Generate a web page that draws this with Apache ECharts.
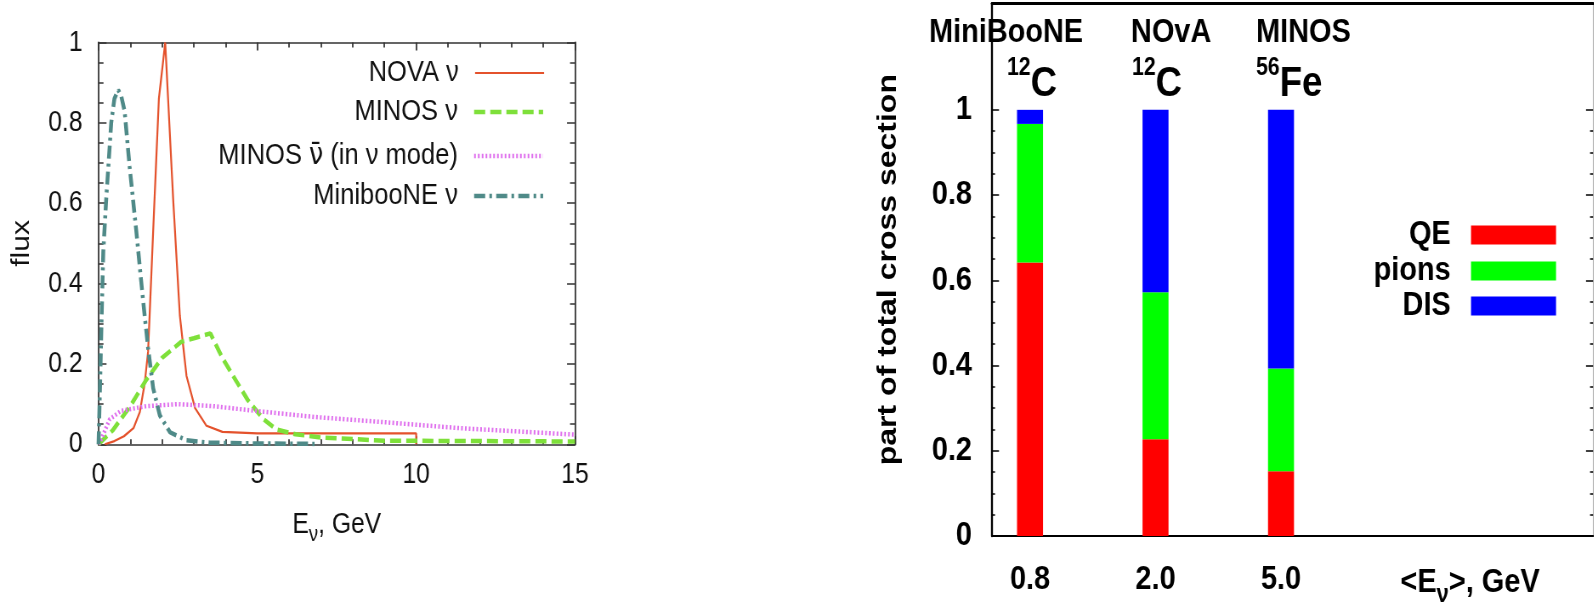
<!DOCTYPE html>
<html><head><meta charset="utf-8">
<script src="https://cdn.jsdelivr.net/npm/echarts@6/dist/echarts.min.js"></script>
<style>html,body{margin:0;padding:0;background:#fff;overflow:hidden;width:1594px;height:606px}
#c{width:1875px;height:606px;transform:scaleX(0.85);transform-origin:0 0}</style>
</head><body><div id="c"></div>
<script>
// ---------- left panel: flux curves [E (GeV), flux] ----------
const novaNu = [[0.2,0],[0.5,0.008],[0.8,0.02],[1.1,0.04],[1.3,0.08],[1.45,0.15],[1.56,0.23],[1.72,0.53],[1.9,0.86],[2.1,1.0],[2.35,0.61],[2.56,0.32],[2.77,0.17],[3.04,0.09],[3.4,0.046],[3.9,0.031],[5,0.027],[10,0.027],[10,0]];
const minosNu = [[0,0],[0.45,0.035],[1,0.095],[1.5,0.16],[2,0.215],[2.6,0.255],[3,0.264],[3.52,0.276],[3.9,0.215],[4.2,0.175],[4.7,0.11],[5.2,0.062],[5.6,0.037],[6.2,0.025],[7,0.017],[9,0.009],[15,0.007]];
const minosNuBar = [[0,0],[0.1,0.015],[0.35,0.062],[0.7,0.083],[1.5,0.095],[2.5,0.1],[3.6,0.095],[5.2,0.081],[6.8,0.068],[9,0.055],[11.4,0.04],[15,0.024]];
const miniboone = [[0,0],[0.05,0.15],[0.1,0.32],[0.15,0.48],[0.25,0.62],[0.4,0.8],[0.5,0.86],[0.62,0.882],[0.72,0.865],[0.82,0.83],[0.98,0.69],[1.19,0.53],[1.4,0.36],[1.56,0.24],[1.72,0.14],[1.93,0.072],[2.25,0.03],[2.77,0.01],[3.5,0.004],[5,0.002],[6.8,0.001]];
const leftNames = ['NOVA ν', 'MINOS ν', 'MINOS ν̄ (in ν mode)', 'MinibooNE ν'];

// ---------- right panel: fractions of total cross section ----------
const energyLabels = ['0.8', '2.0', '5.0', ''];
const experiments = ['MiniBooNE', 'NOvA', 'MINOS'];
const nuclei = [['12','C'], ['12','C'], ['56','Fe']];
const qe    = [0.642, 0.227, 0.152];
const pions = [0.325, 0.345, 0.241];
const dis   = [0.033, 0.428, 0.607];
const rightMajorTicks = [0, 0.2, 0.4, 0.6, 0.8, 1];
const rightMinorTicks = [0.05,0.1,0.15,0.25,0.3,0.35,0.45,0.5,0.55,0.65,0.7,0.75,0.85,0.9,0.95];
const axisTitlePos = 4.506;

// the whole picture is drawn 1/0.85 wide and squeezed back to 1594 px by CSS
const SX = 0.85;
const X = v => v / SX;
const SANS = '"Liberation Sans", Arial, sans-serif';
const AX = '#333';

const chart = echarts.init(document.getElementById('c'), null, {renderer: 'canvas', width: 1594 / SX, height: 606});

function leftX(pos, withLabels) {
  return {
    gridIndex: 0, type: 'value', position: pos, min: 0, max: 15, interval: 5,
    axisLine: {show: true, onZero: false, lineStyle: {color: AX, width: 1.5}},
    axisTick: {show: true, inside: true, length: 8, lineStyle: {color: AX, width: X(1.5)}},
    minorTick: {show: true, splitNumber: 5, length: 5, lineStyle: {color: AX, width: X(1.5)}},
    splitLine: {show: false}, minorSplitLine: {show: false},
    axisLabel: withLabels ? {show: true, margin: 16, fontSize: 29, fontFamily: SANS, color: '#111'} : {show: false},
    name: withLabels ? '{b|E}{s|ν}{b|, GeV}' : '',
    nameLocation: 'middle', nameGap: 66,
    nameTextStyle: {fontSize: 29, fontFamily: SANS, color: '#111', lineHeight: 29, verticalAlign: 'top',
      rich: {
        b: {fontSize: 29, fontFamily: SANS, color: '#111', lineHeight: 29, verticalAlign: 'top'},
        s: {fontSize: 22, fontFamily: SANS, color: '#111', lineHeight: 22, padding: [14,0,0,0], verticalAlign: 'top'}}}
  };
}
function leftY(pos, withLabels) {
  return {
    gridIndex: 0, type: 'value', position: pos, min: 0, max: 1, interval: 0.2,
    axisLine: {show: true, onZero: false, lineStyle: {color: AX, width: X(1.5)}},
    axisTick: {show: true, inside: true, length: X(8), lineStyle: {color: AX, width: 1.5}},
    minorTick: {show: true, splitNumber: 4, length: X(5), lineStyle: {color: AX, width: 1.5}},
    splitLine: {show: false}, minorSplitLine: {show: false},
    axisLabel: withLabels ? {show: true, margin: X(16), fontSize: 29, fontFamily: SANS, color: '#111'} : {show: false},
    name: withLabels ? 'flux' : '', nameLocation: 'middle', nameGap: X(64),
    nameTextStyle: {fontSize: 30, fontFamily: SANS, color: '#111'}
  };
}
function rightY(pos, ticks, len, main) {
  return {
    gridIndex: 1, type: 'value', position: pos, min: 0, max: 1.25,
    axisLine: main ? {show: true, onZero: false, lineStyle: pos === 'left' ? {color: '#000', width: X(2)} : {color: '#bbb', width: X(1)}} : {show: false},
    axisTick: {show: true, inside: true, length: X(len), customValues: ticks, lineStyle: {color: '#000', width: 1.5}},
    splitLine: {show: false},
    axisLabel: (main && pos === 'left') ? {show: true, customValues: rightMajorTicks, margin: X(20), fontSize: 34, fontWeight: 'bold', fontFamily: SANS, color: '#000'} : {show: false},
    name: (main && pos === 'left') ? 'part of total cross section' : '',
    nameLocation: 'middle', nameGap: X(90),
    nameTextStyle: {fontSize: 32, fontWeight: 'bold', fontFamily: SANS, color: '#000'}
  };
}

const lineDefs = [
  {data: novaNu, color: '#e4522c', width: 2.2, type: 'solid'},
  {data: minosNu, color: '#7ee03a', width: 4.5, type: [13, 6]},
  {data: minosNuBar, color: '#e070ee', width: 4.5, type: [2, 2.5]},
  {data: miniboone, color: '#4f8a88', width: 4.5, type: [13, 5, 3, 5]}
];
const lineSeries = lineDefs.map((d, i) => ({
  type: 'line', name: leftNames[i], xAxisIndex: 0, yAxisIndex: 0, symbol: 'none', smooth: false, silent: true, z: 3,
  data: d.data, color: d.color, lineStyle: {color: d.color, width: d.width, type: d.type}
}));

const barSeries = [
  {name: 'QE', data: qe, color: '#ff0000'},
  {name: 'pions', data: pions, color: '#00ff00'},
  {name: 'DIS', data: dis, color: '#0000ff'}
].map(s => ({type: 'bar', name: s.name, xAxisIndex: 4, yAxisIndex: 6, stack: 'xs', barWidth: X(26),
  itemStyle: {color: s.color}, data: s.data, silent: true}));

const leftLegendTops = [58, 97, 141, 181];
const legends = [];
leftNames.forEach((n, i) => legends.push({
  data: [n], orient: 'vertical', align: 'right', right: X(1594 - 545), top: leftLegendTops[i], padding: 0,
  itemWidth: X(69), itemHeight: 14, selectedMode: false, itemStyle: {opacity: 0},
  lineStyle: {width: lineDefs[i].width, type: lineDefs[i].type, color: lineDefs[i].color},
  formatter: name => name.replace('ν̄', '{nb|ν̄}'),
  textStyle: {fontSize: 30, fontFamily: SANS, color: '#111', padding: [0, X(12), 0, 0],
    rich: {nb: {fontSize: 30, fontFamily: '"DejaVu Sans", sans-serif', color: '#111'}}}
}));
const rightLegendTops = [218, 254, 289];
['QE', 'pions', 'DIS'].forEach((n, i) => legends.push({
  data: [{name: n, icon: 'rect'}], orient: 'vertical', align: 'right', right: X(1594 - 1556), top: rightLegendTops[i], padding: 0,
  itemWidth: X(85), itemHeight: 19, selectedMode: false,
  textStyle: {fontSize: 34, fontWeight: 'bold', fontFamily: SANS, color: '#000', padding: [0, X(16), 0, 0]}
}));

const annLeft = [929, 1131, 1256];
const nucLeft = [1007, 1132, 1256];
const graphics = [];
experiments.forEach((e, i) => {
  graphics.push({type: 'text', left: X(annLeft[i]), top: 16, silent: true,
    style: {text: e, font: 'bold 34px ' + SANS, fill: '#000'}});
  graphics.push({type: 'text', left: X(nucLeft[i]), top: 56, silent: true,
    style: {text: '{sup|' + nuclei[i][0] + '}{b|' + nuclei[i][1] + '}', fill: '#000',
      rich: {
        sup: {fontSize: 25, fontWeight: 'bold', fontFamily: SANS, lineHeight: 25, verticalAlign: 'top', fill: '#000'},
        b: {fontSize: 43, fontWeight: 'bold', fontFamily: SANS, lineHeight: 50, verticalAlign: 'bottom', fill: '#000'}
      }}});
});

chart.setOption({
  animation: false,
  backgroundColor: '#fff',
  grid: [
    {left: X(98.5), top: 42.5, width: X(476.5), height: 401.8, containLabel: false, outerBoundsMode: 'none'},
    {left: X(992), top: 3.3, width: X(601), height: 532.7, containLabel: false, outerBoundsMode: 'none'},
    {left: X(967.25), top: 3.3, width: X(502), height: 532.7, containLabel: false, outerBoundsMode: 'none'}
  ],
  xAxis: [
    leftX('bottom', true), leftX('top', false),
    {gridIndex: 1, type: 'value', position: 'bottom', min: 0.697, max: 5.486,
      axisLine: {show: true, onZero: false, lineStyle: {color: '#000', width: 2}},
      axisTick: {show: false}, splitLine: {show: false},
      axisLabel: {show: true, customValues: [axisTitlePos], margin: 30, fontSize: 34, fontWeight: 'bold', fontFamily: SANS, color: '#000',
        lineHeight: 34, verticalAlign: 'top',
        formatter: () => '{b|<E}{s|ν}{b|>, GeV}',
        rich: {
          b: {fontSize: 34, fontWeight: 'bold', fontFamily: SANS, color: '#000', lineHeight: 34, verticalAlign: 'top'},
          s: {fontSize: 26, fontWeight: 'bold', fontFamily: SANS, color: '#000', lineHeight: 26, padding: [16,0,0,0], verticalAlign: 'top'}}}},
    {gridIndex: 1, type: 'value', position: 'top', min: 0.697, max: 5.486,
      axisLine: {show: true, onZero: false, lineStyle: {color: '#000', width: 3}},
      axisTick: {show: false}, axisLabel: {show: false}, splitLine: {show: false}},
    {gridIndex: 2, type: 'category', data: energyLabels, position: 'bottom',
      axisLine: {show: false}, axisTick: {show: false}, splitLine: {show: false},
      axisLabel: {show: true, interval: 0, margin: 27, fontSize: 34, fontWeight: 'bold', fontFamily: SANS, color: '#000'}}
  ],
  yAxis: [
    leftY('left', true), leftY('right', false),
    rightY('left', rightMajorTicks, 7, true), rightY('left', rightMinorTicks, 3, false),
    rightY('right', rightMajorTicks, 7, true), rightY('right', rightMinorTicks, 3, false),
    {gridIndex: 2, type: 'value', min: 0, max: 1.25, show: false}
  ],
  legend: legends,
  series: lineSeries.concat(barSeries),
  graphic: graphics
});
</script></body></html>
